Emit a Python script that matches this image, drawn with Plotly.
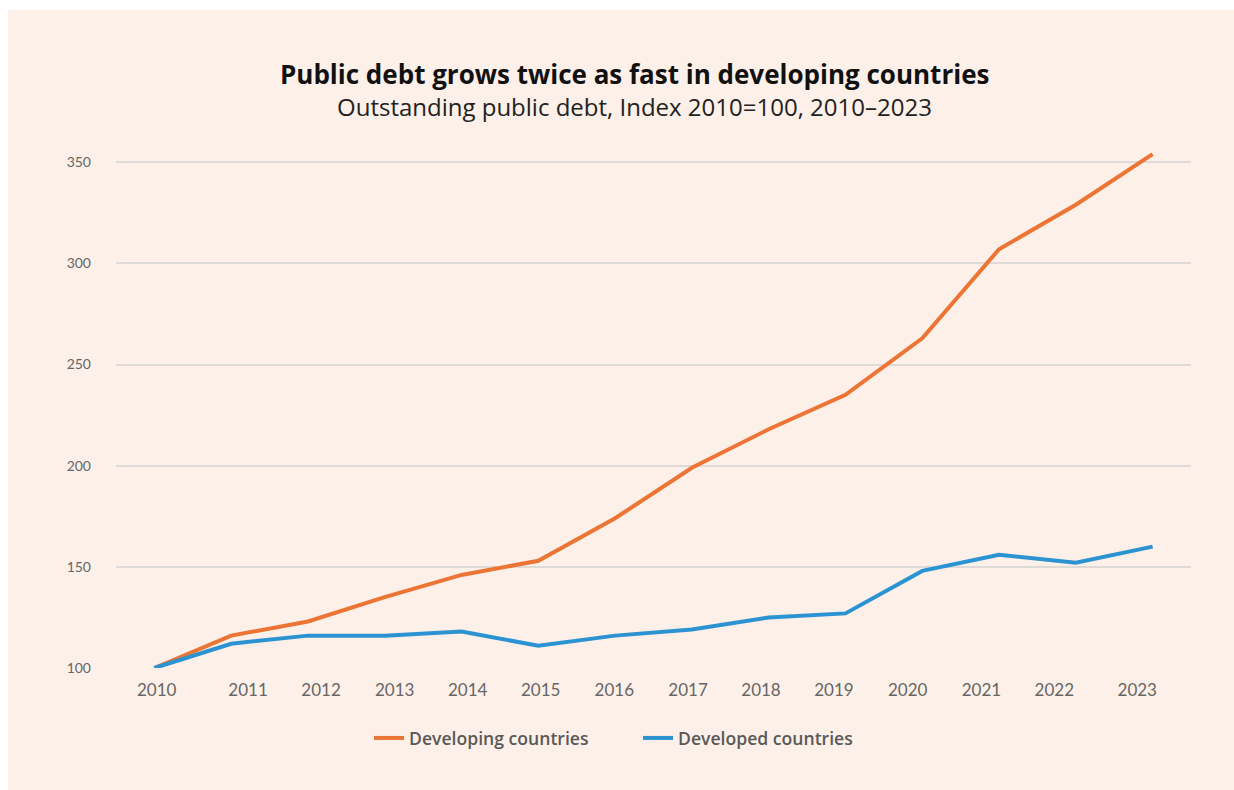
import plotly.graph_objects as go

# Outstanding public debt, index 2010 = 100
years = [2010, 2011, 2012, 2013, 2014, 2015, 2016, 2017, 2018, 2019, 2020, 2021, 2022, 2023]
developing = [100, 116, 123, 135, 146, 153, 174, 199, 218, 235, 263, 307, 329, 354]
developed = [100, 112, 116, 116, 118, 111, 116, 119, 125, 127, 148, 156, 152, 160]
year_labels = [str(y) for y in years]
y_ticks = [100, 150, 200, 250, 300, 350]

ORANGE = "#EC7434"
BLUE = "#2B93D2"
BG = "#FDF0E8"
FONT = "Lato, 'Open Sans', sans-serif"
HEAD_FONT = "'Open Sans', Lato, sans-serif"

# Label positions along the year axis
label_pos = [2010.03, 2011.22, 2012.17, 2013.13, 2014.08, 2015.03, 2015.99,
             2016.95, 2017.90, 2018.85, 2019.81, 2020.77, 2021.72, 2022.80]

fig = go.Figure()
fig.add_trace(go.Scatter(x=years, y=developing, mode="lines", name="Developing countries",
                         line=dict(color=ORANGE, width=4)))
fig.add_trace(go.Scatter(x=years, y=developed, mode="lines", name="Developed countries",
                         line=dict(color=BLUE, width=4)))

W, H = 1234, 790
L, R, T, B = 116, 43, 142, 122
pw, ph = W - L - R, H - T - B


def px_x(px):
    return (px - L) / pw


def px_y(py):
    return (H - B - py) / ph


fig.add_shape(type="rect", xref="paper", yref="paper",
              x0=px_x(8), x1=px_x(W + 2), y0=px_y(H + 2), y1=px_y(10),
              fillcolor=BG, line=dict(width=0), layer="below")

fig.add_annotation(text="<b>Public debt grows twice as fast in developing countries</b>",
                   xref="paper", yref="paper", x=px_x(634), y=px_y(74),
                   xanchor="center", yanchor="middle", showarrow=False,
                   font=dict(family=HEAD_FONT, size=26, color="#111111"))
fig.add_annotation(text="Outstanding public debt, Index 2010=100, 2010–2023",
                   xref="paper", yref="paper", x=px_x(634), y=px_y(107),
                   xanchor="center", yanchor="middle", showarrow=False,
                   font=dict(family=HEAD_FONT, size=24, color="#222222"))

fig.update_layout(
    width=W, height=H,
    margin=dict(l=L, r=R, t=T, b=B, pad=0),
    paper_bgcolor="white",
    plot_bgcolor="rgba(0,0,0,0)",
    font=dict(family=FONT, color="#666666"),
    showlegend=True,
    legend=dict(orientation="h", x=px_x(369), y=px_y(738), xanchor="left", yanchor="middle",
                font=dict(family=HEAD_FONT, size=17.6, color="#595959", weight=600),
                bgcolor="rgba(0,0,0,0)", entrywidth=224, traceorder="normal"),
    xaxis=dict(range=[2009.5, 2023.5], tickvals=label_pos, ticktext=year_labels,
               showgrid=False, zeroline=False, showline=False, ticks="",
               tickfont=dict(family=FONT, size=17, color="#666666"),
               ticklabelstandoff=10),
    yaxis=dict(range=[100, 360], tickvals=y_ticks, showgrid=True, gridcolor="#DDDAD8",
               gridwidth=1.5, zeroline=False, showline=False, ticks="",
               tickfont=dict(family=FONT, size=14, color="#666666"),
               ticklabelstandoff=24),
)

fig.write_html("out.html")
